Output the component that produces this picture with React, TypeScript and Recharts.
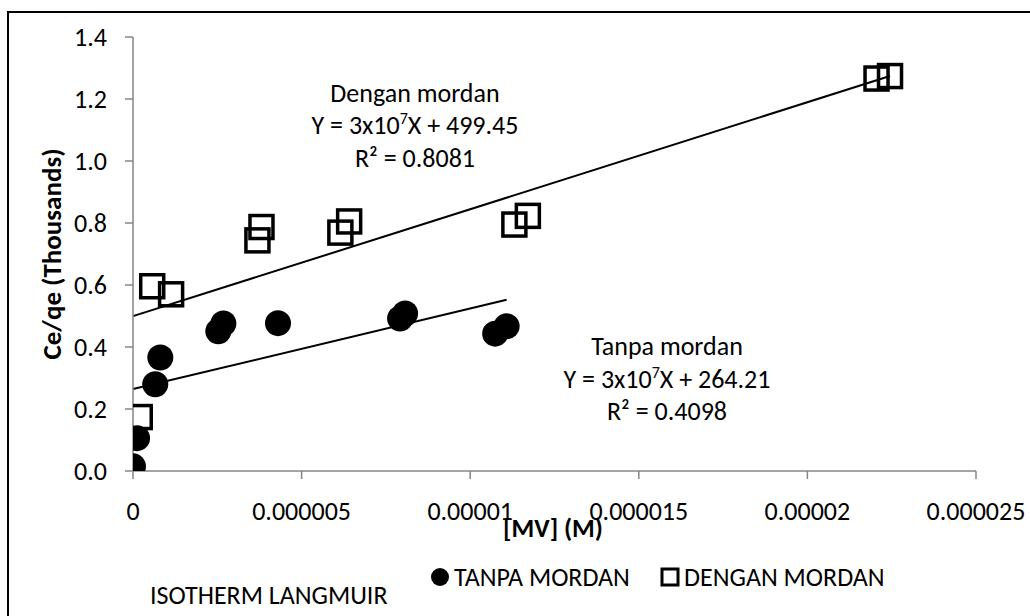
import React from 'react';
import {
  ScatterChart,
  Scatter,
  XAxis,
  YAxis,
  ReferenceLine,
} from 'recharts';

// Ce/qe values are raw; the axis shows them in thousands
const tanpaX = [0, 1.2e-7, 6.6e-7, 8.1e-7, 2.53e-6, 2.68e-6, 4.3e-6, 7.92e-6, 8.07e-6, 1.074e-5, 1.108e-5];
const tanpaY = [15, 106, 280, 366, 451, 476, 477, 492, 508, 443, 467];

const denganX = [2.0e-7, 5.7e-7, 1.13e-6, 3.69e-6, 3.81e-6, 6.15e-6, 6.41e-6, 1.131e-5, 1.171e-5, 2.205e-5, 2.245e-5];
const denganY = [174, 596, 570, 744, 787, 769, 805, 795, 823, 1266, 1274];

// linear trendlines (slope, intercept from the label)
const tanpaTrend = { slope: 2.6e7, intercept: 264.21 };
const denganTrend = { slope: 3.45e7, intercept: 499.45 };

const xTicks = [0, 0.000005, 0.00001, 0.000015, 0.00002, 0.000025];
const yTicks = [0, 200, 400, 600, 800, 1000, 1200, 1400];

const FONT = 'Carlito, Calibri, Lato, sans-serif';
const FS = 26;
const AXIS_GRAY = '#868686';

const tanpaData = tanpaX.map((x, i) => ({ x, y: tanpaY[i] }));
const denganData = denganX.map((x, i) => ({ x, y: denganY[i] }));

const trendSegment = (xs: number[], t: { slope: number; intercept: number }) => {
  const x0 = 0;
  const x1 = Math.max(...xs);
  return [
    { x: x0, y: t.intercept + t.slope * x0 },
    { x: x1, y: t.intercept + t.slope * x1 },
  ];
};

const Dot = (p: any) => <circle cx={p.cx} cy={p.cy} r={13} fill="#000" />;
const Box = (p: any) => (
  <rect x={p.cx - 11.5} y={p.cy - 11.5} width={23} height={23} fill="none" stroke="#000" strokeWidth={3.5} />
);

const Sup = ({ pre, post }: { pre: string; post: string }) => (
  <>
    <tspan>{pre}</tspan>
    <tspan dy={-10} fontSize={16}>7</tspan>
    <tspan dy={10}>{post}</tspan>
  </>
);

const Overlay = () => (
  <svg
    width={1030}
    height={616}
    style={{ position: 'absolute', left: 0, top: 0, pointerEvents: 'none' }}
    fontFamily={FONT}
    fontSize={FS}
    fill="#000"
  >
    {/* trendline labels */}
    <text x={415} y={102} textAnchor="middle">Dengan mordan</text>
    <text x={415} y={134} textAnchor="middle">
      <Sup pre="Y = 3x10" post="X + 499.45" />
    </text>
    <text x={415} y={167} textAnchor="middle">R² = 0.8081</text>

    <text x={667} y={355} textAnchor="middle">Tanpa mordan</text>
    <text x={667} y={388} textAnchor="middle">
      <Sup pre="Y = 3x10" post="X + 264.21" />
    </text>
    <text x={667} y={420} textAnchor="middle">R² = 0.4098</text>

    {/* axis titles */}
    <text x={553} y={537} textAnchor="middle" fontWeight="bold">[MV] (M)</text>
    <text
      x={0}
      y={0}
      textAnchor="middle"
      fontWeight="bold"
      fontSize={27}
      transform="translate(61 254) rotate(-90)"
    >
      Ce/qe (Thousands)
    </text>

    {/* legend */}
    <circle cx={440} cy={577} r={9} fill="#000" />
    <text x={454} y={586}>TANPA MORDAN</text>
    <rect x={662} y={569} width={16} height={16} fill="none" stroke="#000" strokeWidth={3} />
    <text x={684} y={586}>DENGAN MORDAN</text>

    <text x={150} y={604}>ISOTHERM LANGMUIR</text>
  </svg>
);

export default function App() {
  return (
    <div style={{ position: 'absolute', left: 0, top: 0, width: 1030, height: 616, background: '#fff' }}>
      <div
        style={{
          position: 'absolute',
          left: 7,
          top: 11,
          width: 1023,
          height: 605,
          boxSizing: 'border-box',
          borderLeft: '2px solid #000',
          borderTop: '2px solid #000',
        }}
      />
      <div style={{ position: 'absolute', left: 0, top: 0 }}>
        <ScatterChart width={1030} height={616} margin={{ top: 37, right: 54, bottom: 0, left: 0 }}>
          <XAxis
            type="number"
            dataKey="x"
            domain={[0, 0.000025]}
            ticks={xTicks}
            tickFormatter={(v: number) => String(v)}
            height={145}
            tickSize={8}
            tickMargin={23}
            stroke={AXIS_GRAY}
            strokeWidth={1.5}
            tick={{ fill: '#000', fontSize: FS, fontFamily: FONT }}
            allowDataOverflow
          />
          <YAxis
            type="number"
            dataKey="y"
            domain={[0, 1400]}
            ticks={yTicks}
            tickFormatter={(v: number) => (v / 1000).toFixed(1)}
            width={133}
            tickSize={8}
            tickMargin={18}
            stroke={AXIS_GRAY}
            strokeWidth={1.5}
            tick={{ fill: '#000', fontSize: FS, fontFamily: FONT }}
            allowDataOverflow
          />
          <Scatter name="TANPA MORDAN" data={tanpaData} shape={Dot} isAnimationActive={false} />
          <Scatter name="DENGAN MORDAN" data={denganData} shape={Box} isAnimationActive={false} />
          <ReferenceLine
            segment={trendSegment(denganX, denganTrend)}
            stroke="#000"
            strokeWidth={2}
            ifOverflow="visible"
          />
          <ReferenceLine
            segment={trendSegment(tanpaX, tanpaTrend)}
            stroke="#000"
            strokeWidth={2}
            ifOverflow="visible"
          />
        </ScatterChart>
      </div>
      <Overlay />
    </div>
  );
}
